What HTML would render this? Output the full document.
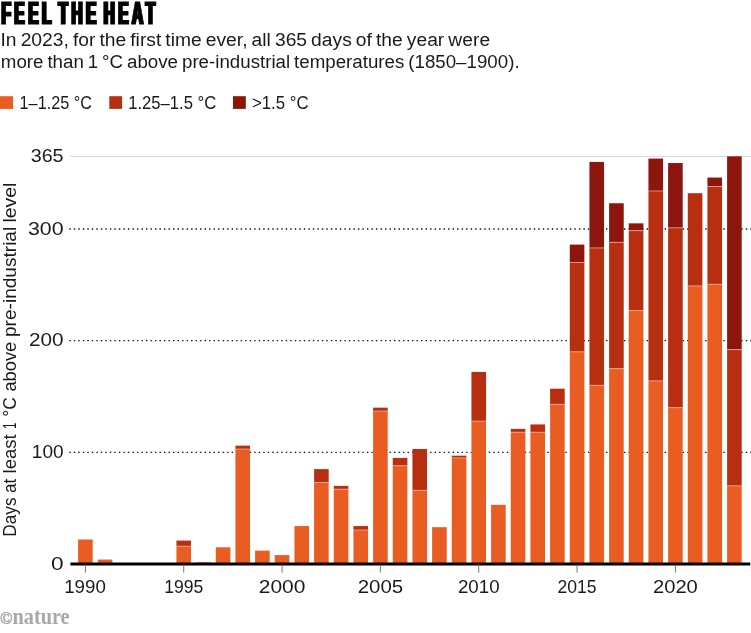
<!DOCTYPE html>
<html><head><meta charset="utf-8"><title>Feel the heat</title>
<style>
html,body{margin:0;padding:0;background:#fff;}
svg{display:block;font-family:"Liberation Sans",sans-serif;fill:#1a1a1a;}
.b{}
</style></head><body>
<svg width="751" height="633" viewBox="0 0 751 633">
<defs><filter id="hb" x="-2%" y="-10%" width="104%" height="120%"><feMorphology operator="dilate" radius="1 0"/></filter></defs>
<rect width="751" height="633" fill="#fff"/>
<text id="ttl" x="1.4" y="24" font-size="32" font-weight="bold" letter-spacing="7.5" word-spacing="-8.5" textLength="157.2" lengthAdjust="spacingAndGlyphs" fill="#000" stroke="#000" stroke-width="1.2" filter="url(#hb)">FEEL THE HEAT</text>
<g class="b">
<text x="0.5" y="46" font-size="18" word-spacing="-1.2" textLength="489.6" lengthAdjust="spacingAndGlyphs">In 2023, for the first time ever, all 365 days of the year were</text>
<text x="0.8" y="67.6" font-size="18" word-spacing="-1.2" textLength="518.8" lengthAdjust="spacingAndGlyphs">more than 1 °C above pre-industrial temperatures (1850–1900).</text>
<text x="19.6" y="108.8" font-size="18" textLength="72.3" lengthAdjust="spacingAndGlyphs">1–1.25 °C</text>
<text x="128.2" y="108.8" font-size="18" textLength="88" lengthAdjust="spacingAndGlyphs">1.25–1.5 °C</text>
<text x="252" y="108.8" font-size="18" textLength="56.5" lengthAdjust="spacingAndGlyphs">&gt;1.5 °C</text>
</g>
<rect x="0" y="96.2" width="13.1" height="12.7" fill="#E95D23"/>
<rect x="109.3" y="96.2" width="12.8" height="12.7" fill="#B72F10"/>
<rect x="233" y="96.2" width="12.8" height="12.7" fill="#8C150D"/>
<line x1="70" x2="751" y1="156.4" y2="156.4" stroke="#bcc8d3" stroke-width="0.7"/>
<line x1="69.3" x2="751" y1="452.35" y2="452.35" stroke="#111" stroke-width="1.4" stroke-dasharray="1.4 3.11"/><line x1="69.3" x2="751" y1="340.65" y2="340.65" stroke="#111" stroke-width="1.4" stroke-dasharray="1.4 3.11"/><line x1="69.3" x2="751" y1="228.95" y2="228.95" stroke="#111" stroke-width="1.4" stroke-dasharray="1.4 3.11"/>
<rect x="78.10" y="539.48" width="14.6" height="24.57" fill="#E95D23"/>
<rect x="97.77" y="559.58" width="14.6" height="4.47" fill="#E95D23"/>
<rect x="176.44" y="546.18" width="14.6" height="17.87" fill="#E95D23"/>
<rect x="176.44" y="540.59" width="14.6" height="5.58" fill="#B72F10"/>
<line x1="176.44" x2="191.03" y1="546.18" y2="546.18" stroke="#f9cdb8" stroke-width="0.6"/>
<rect x="196.10" y="562.37" width="14.6" height="1.68" fill="#E95D23"/>
<rect x="215.77" y="547.29" width="14.6" height="16.75" fill="#E95D23"/>
<rect x="235.44" y="449.00" width="14.6" height="115.05" fill="#E95D23"/>
<rect x="235.44" y="445.65" width="14.6" height="3.35" fill="#B72F10"/>
<line x1="235.44" x2="250.04" y1="449.00" y2="449.00" stroke="#f9cdb8" stroke-width="0.6"/>
<rect x="255.10" y="550.65" width="14.6" height="13.40" fill="#E95D23"/>
<rect x="274.77" y="555.11" width="14.6" height="8.94" fill="#E95D23"/>
<rect x="294.44" y="526.07" width="14.6" height="37.98" fill="#E95D23"/>
<rect x="314.10" y="482.51" width="14.6" height="81.54" fill="#E95D23"/>
<rect x="314.10" y="469.10" width="14.6" height="13.40" fill="#B72F10"/>
<line x1="314.10" x2="328.70" y1="482.51" y2="482.51" stroke="#f9cdb8" stroke-width="0.6"/>
<rect x="333.77" y="489.21" width="14.6" height="74.84" fill="#E95D23"/>
<rect x="333.77" y="485.86" width="14.6" height="3.35" fill="#B72F10"/>
<line x1="333.77" x2="348.37" y1="489.21" y2="489.21" stroke="#f9cdb8" stroke-width="0.6"/>
<rect x="353.44" y="529.98" width="14.6" height="34.07" fill="#E95D23"/>
<rect x="353.44" y="526.07" width="14.6" height="3.91" fill="#B72F10"/>
<line x1="353.44" x2="368.04" y1="529.98" y2="529.98" stroke="#f9cdb8" stroke-width="0.6"/>
<rect x="373.10" y="411.02" width="14.6" height="153.03" fill="#E95D23"/>
<rect x="373.10" y="407.67" width="14.6" height="3.35" fill="#B72F10"/>
<line x1="373.10" x2="387.70" y1="411.02" y2="411.02" stroke="#f9cdb8" stroke-width="0.6"/>
<rect x="392.77" y="465.75" width="14.6" height="98.30" fill="#E95D23"/>
<rect x="392.77" y="457.93" width="14.6" height="7.82" fill="#B72F10"/>
<line x1="392.77" x2="407.37" y1="465.75" y2="465.75" stroke="#f9cdb8" stroke-width="0.6"/>
<rect x="412.44" y="490.33" width="14.6" height="73.72" fill="#E95D23"/>
<rect x="412.44" y="449.00" width="14.6" height="41.33" fill="#B72F10"/>
<line x1="412.44" x2="427.04" y1="490.33" y2="490.33" stroke="#f9cdb8" stroke-width="0.6"/>
<rect x="432.11" y="527.19" width="14.6" height="36.86" fill="#E95D23"/>
<rect x="451.77" y="457.93" width="14.6" height="106.11" fill="#E95D23"/>
<rect x="451.77" y="455.70" width="14.6" height="2.23" fill="#B72F10"/>
<line x1="451.77" x2="466.37" y1="457.93" y2="457.93" stroke="#f9cdb8" stroke-width="0.6"/>
<rect x="471.44" y="421.07" width="14.6" height="142.98" fill="#E95D23"/>
<rect x="471.44" y="371.93" width="14.6" height="49.15" fill="#B72F10"/>
<line x1="471.44" x2="486.04" y1="421.07" y2="421.07" stroke="#f9cdb8" stroke-width="0.6"/>
<rect x="491.11" y="504.85" width="14.6" height="59.20" fill="#E95D23"/>
<rect x="510.77" y="432.24" width="14.6" height="131.81" fill="#E95D23"/>
<rect x="510.77" y="428.89" width="14.6" height="3.35" fill="#B72F10"/>
<line x1="510.77" x2="525.37" y1="432.24" y2="432.24" stroke="#f9cdb8" stroke-width="0.6"/>
<rect x="530.44" y="432.24" width="14.6" height="131.81" fill="#E95D23"/>
<rect x="530.44" y="424.42" width="14.6" height="7.82" fill="#B72F10"/>
<line x1="530.44" x2="545.04" y1="432.24" y2="432.24" stroke="#f9cdb8" stroke-width="0.6"/>
<rect x="550.11" y="404.32" width="14.6" height="159.73" fill="#E95D23"/>
<rect x="550.11" y="388.68" width="14.6" height="15.64" fill="#B72F10"/>
<line x1="550.11" x2="564.71" y1="404.32" y2="404.32" stroke="#f9cdb8" stroke-width="0.6"/>
<rect x="569.78" y="351.82" width="14.6" height="212.23" fill="#E95D23"/>
<rect x="569.78" y="262.46" width="14.6" height="89.36" fill="#B72F10"/>
<line x1="569.78" x2="584.38" y1="351.82" y2="351.82" stroke="#f9cdb8" stroke-width="0.6"/>
<rect x="569.78" y="244.59" width="14.6" height="17.87" fill="#8C150D"/>
<line x1="569.78" x2="584.38" y1="262.46" y2="262.46" stroke="#f9cdb8" stroke-width="0.6"/>
<rect x="589.44" y="385.33" width="14.6" height="178.72" fill="#E95D23"/>
<rect x="589.44" y="247.94" width="14.6" height="137.39" fill="#B72F10"/>
<line x1="589.44" x2="604.04" y1="385.33" y2="385.33" stroke="#f9cdb8" stroke-width="0.6"/>
<rect x="589.44" y="161.93" width="14.6" height="86.01" fill="#8C150D"/>
<line x1="589.44" x2="604.04" y1="247.94" y2="247.94" stroke="#f9cdb8" stroke-width="0.6"/>
<rect x="609.11" y="368.57" width="14.6" height="195.47" fill="#E95D23"/>
<rect x="609.11" y="242.35" width="14.6" height="126.22" fill="#B72F10"/>
<line x1="609.11" x2="623.71" y1="368.57" y2="368.57" stroke="#f9cdb8" stroke-width="0.6"/>
<rect x="609.11" y="203.26" width="14.6" height="39.09" fill="#8C150D"/>
<line x1="609.11" x2="623.71" y1="242.35" y2="242.35" stroke="#f9cdb8" stroke-width="0.6"/>
<rect x="628.78" y="310.49" width="14.6" height="253.56" fill="#E95D23"/>
<rect x="628.78" y="230.63" width="14.6" height="79.87" fill="#B72F10"/>
<line x1="628.78" x2="643.38" y1="310.49" y2="310.49" stroke="#f9cdb8" stroke-width="0.6"/>
<rect x="628.78" y="223.36" width="14.6" height="7.26" fill="#8C150D"/>
<line x1="628.78" x2="643.38" y1="230.63" y2="230.63" stroke="#f9cdb8" stroke-width="0.6"/>
<rect x="648.44" y="380.86" width="14.6" height="183.19" fill="#E95D23"/>
<rect x="648.44" y="190.97" width="14.6" height="189.89" fill="#B72F10"/>
<line x1="648.44" x2="663.04" y1="380.86" y2="380.86" stroke="#f9cdb8" stroke-width="0.6"/>
<rect x="648.44" y="158.58" width="14.6" height="32.39" fill="#8C150D"/>
<line x1="648.44" x2="663.04" y1="190.97" y2="190.97" stroke="#f9cdb8" stroke-width="0.6"/>
<rect x="668.11" y="407.67" width="14.6" height="156.38" fill="#E95D23"/>
<rect x="668.11" y="227.83" width="14.6" height="179.84" fill="#B72F10"/>
<line x1="668.11" x2="682.71" y1="407.67" y2="407.67" stroke="#f9cdb8" stroke-width="0.6"/>
<rect x="668.11" y="163.05" width="14.6" height="64.79" fill="#8C150D"/>
<line x1="668.11" x2="682.71" y1="227.83" y2="227.83" stroke="#f9cdb8" stroke-width="0.6"/>
<rect x="687.78" y="285.92" width="14.6" height="278.13" fill="#E95D23"/>
<rect x="687.78" y="193.21" width="14.6" height="92.71" fill="#B72F10"/>
<line x1="687.78" x2="702.38" y1="285.92" y2="285.92" stroke="#f9cdb8" stroke-width="0.6"/>
<rect x="707.44" y="284.24" width="14.6" height="279.81" fill="#E95D23"/>
<rect x="707.44" y="186.50" width="14.6" height="97.74" fill="#B72F10"/>
<line x1="707.44" x2="722.04" y1="284.24" y2="284.24" stroke="#f9cdb8" stroke-width="0.6"/>
<rect x="707.44" y="177.57" width="14.6" height="8.94" fill="#8C150D"/>
<line x1="707.44" x2="722.04" y1="186.50" y2="186.50" stroke="#f9cdb8" stroke-width="0.6"/>
<rect x="727.11" y="485.86" width="14.6" height="78.19" fill="#E95D23"/>
<rect x="727.11" y="349.59" width="14.6" height="136.27" fill="#B72F10"/>
<line x1="727.11" x2="741.71" y1="485.86" y2="485.86" stroke="#f9cdb8" stroke-width="0.6"/>
<rect x="727.11" y="156.34" width="14.6" height="193.24" fill="#8C150D"/>
<line x1="727.11" x2="741.71" y1="349.59" y2="349.59" stroke="#f9cdb8" stroke-width="0.6"/>
<line x1="70.4" x2="750.3" y1="564" y2="564" stroke="#000" stroke-width="3.2"/>
<line x1="85.40" x2="85.40" y1="564" y2="572.6" stroke="#555" stroke-width="0.8"/><line x1="183.74" x2="183.74" y1="564" y2="572.6" stroke="#555" stroke-width="0.8"/><line x1="282.07" x2="282.07" y1="564" y2="572.6" stroke="#555" stroke-width="0.8"/><line x1="380.40" x2="380.40" y1="564" y2="572.6" stroke="#555" stroke-width="0.8"/><line x1="478.74" x2="478.74" y1="564" y2="572.6" stroke="#555" stroke-width="0.8"/><line x1="577.08" x2="577.08" y1="564" y2="572.6" stroke="#555" stroke-width="0.8"/><line x1="675.41" x2="675.41" y1="564" y2="572.6" stroke="#555" stroke-width="0.8"/>
<g class="b">
<text x="85.00" y="593.1" text-anchor="middle" font-size="18" textLength="41.6" lengthAdjust="spacingAndGlyphs">1990</text><text x="183.74" y="593.1" text-anchor="middle" font-size="18" textLength="39.1" lengthAdjust="spacingAndGlyphs">1995</text><text x="282.07" y="593.1" text-anchor="middle" font-size="18" textLength="46.6" lengthAdjust="spacingAndGlyphs">2000</text><text x="380.40" y="593.1" text-anchor="middle" font-size="18" textLength="45.5" lengthAdjust="spacingAndGlyphs">2005</text><text x="478.74" y="593.1" text-anchor="middle" font-size="18" textLength="41.6" lengthAdjust="spacingAndGlyphs">2010</text><text x="577.08" y="593.1" text-anchor="middle" font-size="18" textLength="39.1" lengthAdjust="spacingAndGlyphs">2015</text><text x="675.41" y="593.1" text-anchor="middle" font-size="18" textLength="44.8" lengthAdjust="spacingAndGlyphs">2020</text>
<text x="63.6" y="569.65" text-anchor="end" font-size="18" textLength="12.6" lengthAdjust="spacingAndGlyphs">0</text><text x="63.6" y="457.95" text-anchor="end" font-size="18" textLength="31.8" lengthAdjust="spacingAndGlyphs">100</text><text x="63.6" y="346.25" text-anchor="end" font-size="18" textLength="34.6" lengthAdjust="spacingAndGlyphs">200</text><text x="63.6" y="234.55" text-anchor="end" font-size="18" textLength="35.6" lengthAdjust="spacingAndGlyphs">300</text><text x="63.6" y="161.94" text-anchor="end" font-size="18" textLength="32.9" lengthAdjust="spacingAndGlyphs">365</text>
<text transform="translate(15.9,537) rotate(-90)" font-size="18"><tspan x="0.35" textLength="39.24" lengthAdjust="spacingAndGlyphs">Days</tspan> <tspan x="44.00" textLength="14.19" lengthAdjust="spacingAndGlyphs">at</tspan> <tspan x="63.60" textLength="39.11" lengthAdjust="spacingAndGlyphs">least</tspan> <tspan x="108.0" textLength="6.4" lengthAdjust="spacingAndGlyphs">1</tspan> <tspan x="120.30" textLength="19.60" lengthAdjust="spacingAndGlyphs">°C</tspan> <tspan x="145.40" textLength="49.91" lengthAdjust="spacingAndGlyphs">above</tspan> <tspan x="200.00" textLength="110.21" lengthAdjust="spacingAndGlyphs">pre-industrial</tspan> <tspan x="314.40" textLength="39.91" lengthAdjust="spacingAndGlyphs">level</tspan></text>
</g>
<text x="0" y="624" font-family="'Liberation Serif',serif" font-weight="bold" fill="#a8a8a8"><tspan font-size="16.5" stroke="#a8a8a8" stroke-width="0.5" textLength="12.4" lengthAdjust="spacingAndGlyphs">©</tspan><tspan x="12.6" font-size="24" textLength="57" lengthAdjust="spacingAndGlyphs">nature</tspan></text>
</svg>
</body></html>
